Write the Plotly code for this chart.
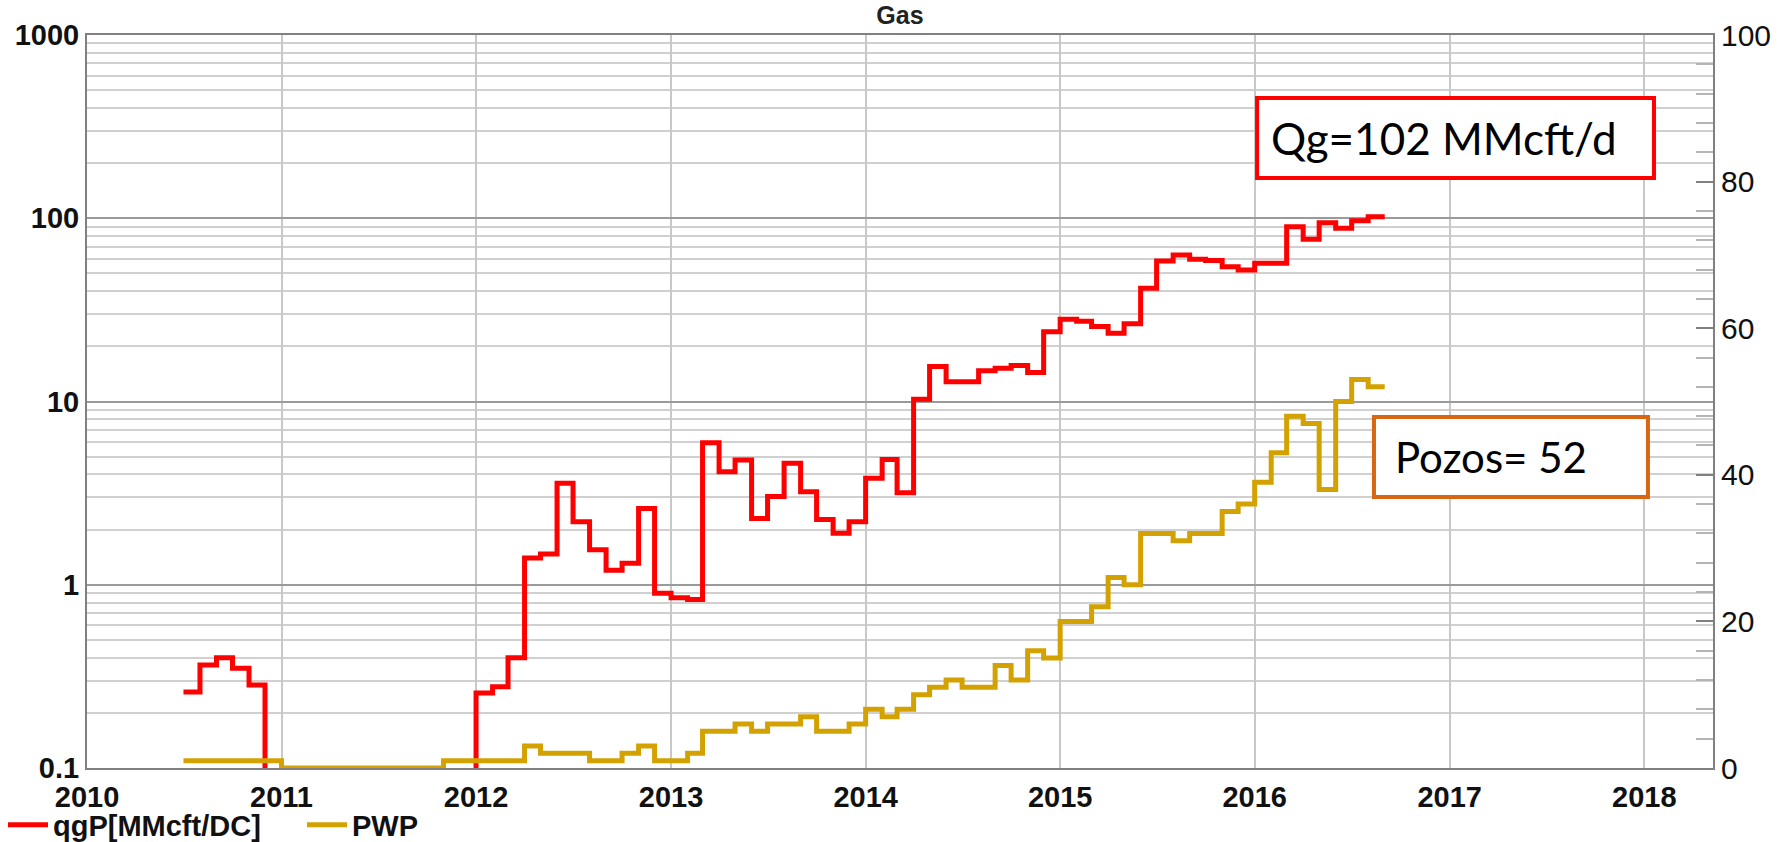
import pandas as pd
import plotly.graph_objects as go

# ---------------- data (monthly, Jul-2010 .. Aug-2016) ----------------
start_month = "2010-07-01"
end_month = "2016-08-01"

qg_2010 = [0.26, 0.365, 0.40, 0.35, 0.284, 0]           # Jul..Dec
qg_2011 = [0, 0, 0, 0, 0, 0, 0, 0, 0, 0, 0, 0]
qg_2012 = [0.257, 0.278, 0.40, 1.40, 1.47, 3.58, 2.21, 1.55, 1.20, 1.31, 2.61, 0.90]
qg_2013 = [0.85, 0.83, 5.96, 4.14, 4.80, 2.30, 3.03, 4.60, 3.22, 2.27, 1.91, 2.21]
qg_2014 = [3.81, 4.83, 3.18, 10.3, 15.5, 12.8, 12.8, 14.7, 15.2, 15.7, 14.4, 24.0]
qg_2015 = [28.1, 27.4, 25.7, 23.6, 26.6, 41.5, 58.4, 63.0, 59.7, 58.8, 54.4, 52.2]
qg_2016 = [56.8, 56.8, 89.9, 76.8, 94.6, 88.1, 97.0, 102.0]  # Jan..Aug

pwp_2010 = [1, 1, 1, 1, 1, 1]
pwp_2011 = [0, 0, 0, 0, 0, 0, 0, 0, 0, 0, 1, 1]
pwp_2012 = [1, 1, 1, 3, 2, 2, 2, 1, 1, 2, 3, 1]
pwp_2013 = [1, 2, 5, 5, 6, 5, 6, 6, 7, 5, 5, 6]
pwp_2014 = [8, 7, 8, 10, 11, 12, 11, 11, 14, 12, 16, 15]
pwp_2015 = [20, 20, 22, 26, 25, 32, 32, 31, 32, 32, 35, 36]
pwp_2016 = [39, 43, 48, 47, 38, 50, 53, 52]

series_names = ["qgP[MMcft/DC]", "PWP"]
year_ticks = [str(y) for y in range(2010, 2019)]
left_ticks = [0.1, 1, 10, 100, 1000]
left_tick_text = ["0.1", "1", "10", "100", "1000"]
right_ticks = [0, 20, 40, 60, 80, 100]
qg_label = "Qg=102 MMcft/d"
pozos_label = "Pozos= 52"

# ---------------- build ----------------
months = pd.date_range(start_month, end_month, freq="MS")
qg = qg_2010 + qg_2011 + qg_2012 + qg_2013 + qg_2014 + qg_2015 + qg_2016
pwp = pwp_2010 + pwp_2011 + pwp_2012 + pwp_2013 + pwp_2014 + pwp_2015 + pwp_2016

# step plot: each monthly value holds until the start of the next month
x_steps = list(months) + [months[-1] + pd.DateOffset(months=1)]
FLOOR = 1e-3  # zero rate drawn below the log axis floor (clipped)
qg_plot = [v if v > 0 else FLOOR for v in qg] + [qg[-1]]
pwp_plot = pwp + [pwp[-1]]

RED = "#FF0000"
GOLD = "#D4A200"
FONT = "Liberation Sans"
W, H = 1781, 842
L, R, T, B = 87, 68, 35, 74

fig = go.Figure()
fig.add_trace(go.Scatter(x=x_steps, y=qg_plot, mode="lines", line_shape="hv",
                         line=dict(color=RED, width=5), name=series_names[0], yaxis="y"))
fig.add_trace(go.Scatter(x=x_steps, y=pwp_plot, mode="lines", line_shape="hv",
                         line=dict(color=GOLD, width=5), name=series_names[1], yaxis="y2"))

minor_log = [k * 10 ** e for e in range(-1, 3) for k in range(2, 10)]

fig.update_layout(
    width=W, height=H,
    margin=dict(l=L, r=R, t=T, b=B, autoexpand=False),
    paper_bgcolor="white", plot_bgcolor="white",
    font=dict(family=FONT, color="#111111"),
    title=dict(text="<b>Gas</b>", xref="container", yref="container",
               x=900 / W, y=1 - 15 / H, xanchor="center", yanchor="middle",
               font=dict(size=25, family=FONT, color="#222222")),
    showlegend=True,
    legend=dict(orientation="h", xref="container", yref="container",
                x=3 / W, y=1 - 825 / H, xanchor="left", yanchor="middle",
                font=dict(size=29, family=FONT, weight="bold", color="#111111"),
                bgcolor="rgba(0,0,0,0)", itemwidth=40, entrywidth=244, entrywidthmode="pixels"),
    xaxis=dict(type="date", range=["2010-01-01", "2018-05-10"], automargin=False,
               tickvals=[f"{y}-01-01" for y in year_ticks], ticktext=year_ticks,
               showgrid=True, gridcolor="#c8c8c8", gridwidth=2,
               showline=True, linecolor="#808080", linewidth=2, mirror=True,
               ticks="", zeroline=False, ticklabelstandoff=2,
               tickfont=dict(size=29, family=FONT, weight="bold", color="#111111")),
    yaxis=dict(type="log", range=[-1, 3], tickvals=left_ticks, ticktext=left_tick_text,
               automargin=False,
               showgrid=True, gridcolor="#9a9a9a", gridwidth=2,
               minor=dict(tickvals=minor_log, showgrid=True, gridcolor="#d0d0d0", gridwidth=2, ticks=""),
               showline=True, linecolor="#808080", linewidth=2,
               ticks="", zeroline=False,
               tickfont=dict(size=29, family=FONT, weight="bold", color="#111111")),
    yaxis2=dict(overlaying="y", side="right", range=[0, 100], tickvals=right_ticks,
                automargin=False,
                showgrid=False, zeroline=False,
                showline=True, linecolor="#808080", linewidth=2,
                ticks="inside", ticklen=17, tickwidth=2, tickcolor="#808080",
                minor=dict(dtick=4, tick0=0, ticks="inside", ticklen=17, tickwidth=2, tickcolor="#b5b5b5"),
                tickfont=dict(size=30, family=FONT, color="#111111")),
)

# annotation boxes
fig.add_shape(type="rect", xref="paper", yref="paper", x0=0.7196, x1=0.9637, y0=0.8049, y1=0.9141,
              line=dict(color="#FF0000", width=4), fillcolor="white", layer="above")
fig.add_annotation(xref="paper", yref="paper", x=0.727, y=0.8595, xanchor="left", yanchor="middle",
                   text=qg_label, showarrow=False, font=dict(family="Lato", size=44, color="black"))
fig.add_shape(type="rect", xref="paper", yref="paper", x0=0.7915, x1=0.960, y0=0.3697, y1=0.4789,
              line=dict(color="#D86612", width=4), fillcolor="white", layer="above")
fig.add_annotation(xref="paper", yref="paper", x=0.803, y=0.4243, xanchor="left", yanchor="middle",
                   text=pozos_label, showarrow=False, font=dict(family="Lato", size=42, color="black"))

fig.write_html("out.html", config={"displayModeBar": False},
               post_script="document.body.style.margin='0';")
